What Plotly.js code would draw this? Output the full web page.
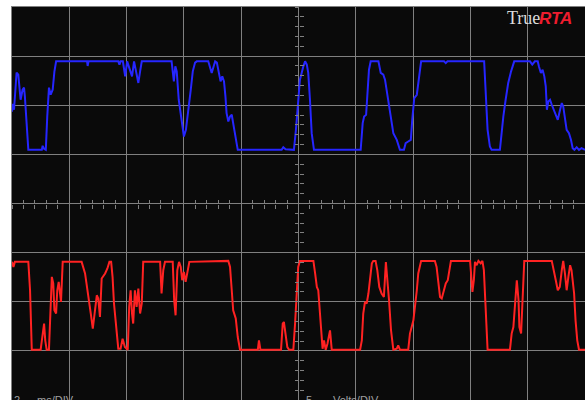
<!DOCTYPE html>
<html>
<head>
<meta charset="utf-8">
<script src="https://cdn.plot.ly/plotly-3.0.1.min.js"></script>
<style>html,body{margin:0;padding:0;background:#fff;}#chart{width:585px;height:400px;}</style>
</head>
<body>
<div id="chart"></div>
<script>
// Channel 1 (blue): time in ms, voltage in V
var blueTime = [0.00,0.03,0.07,0.16,0.22,0.30,0.37,0.42,0.45,0.57,1.04,1.07,1.12,1.18,1.23,1.29,1.35,1.42,1.48,1.54,2.62,2.64,2.67,3.71,3.75,3.79,3.87,3.95,4.02,4.12,4.19,4.26,4.33,4.41,4.47,4.53,5.57,5.61,5.65,5.70,5.75,5.82,5.92,6.00,6.07,6.15,6.24,6.31,6.39,6.45,6.85,6.97,7.09,7.15,7.24,7.28,7.34,7.40,7.45,7.49,7.55,7.61,7.67,7.70,7.76,7.82,7.88,9.41,9.47,9.55,9.84,9.91,9.99,10.05,10.17,10.23,10.29,10.34,10.40,10.46,10.54,12.17,12.24,12.29,12.36,12.40,12.46,12.52,12.79,12.87,12.96,13.02,13.13,13.25,13.31,13.43,13.54,13.68,13.74,13.83,13.92,13.97,14.04,14.13,14.18,14.28,15.08,15.14,15.20,16.48,16.53,16.60,16.68,16.74,17.03,17.09,17.15,17.23,17.32,17.42,17.53,18.08,18.16,18.25,18.35,18.39,18.46,18.52,18.58,18.63,18.67,18.72,18.78,18.84,18.89,18.95,19.05,19.13,19.19,19.24,19.30,19.36,19.44,19.51,19.57,19.63,19.71,19.79,19.88,20.00];
var blueVolts = [9.34,10.15,9.54,13.32,13.11,10.56,11.58,11.79,10.87,5.46,5.46,5.87,5.56,5.46,8.83,11.79,11.07,11.58,13.42,14.47,14.47,14.00,14.47,14.47,14.13,14.47,14.47,12.94,14.47,13.62,12.94,14.47,13.42,12.27,13.42,14.47,14.47,13.32,12.43,13.96,13.45,10.56,8.21,6.82,7.50,9.23,11.58,13.45,14.34,14.47,14.47,13.29,14.47,14.34,12.78,12.43,12.94,12.43,10.90,9.20,8.35,8.86,9.03,8.35,7.50,6.48,5.46,5.46,5.73,5.53,5.46,7.50,10.56,12.60,13.96,14.47,14.13,13.29,10.56,7.16,5.46,5.46,8.18,8.86,9.03,11.24,13.62,14.47,14.47,13.29,13.11,12.60,10.56,8.52,7.16,6.48,5.46,5.46,6.14,6.31,6.48,8.52,10.73,11.07,12.27,14.47,14.47,14.29,14.47,14.47,11.58,7.50,5.80,5.46,5.46,7.50,8.86,10.56,12.27,13.45,14.47,14.47,14.13,14.47,14.47,13.96,13.29,13.62,12.94,11.92,9.54,10.39,10.56,10.05,9.71,9.20,8.52,9.54,10.22,9.88,8.52,7.50,7.16,6.48,5.63,5.46,5.73,5.46,5.63,5.46];

// Channel 2 (red): time in ms, voltage in V
var redTime = [0.00,0.05,0.10,0.57,0.63,0.69,1.00,1.07,1.12,1.16,1.21,1.29,1.33,1.39,1.44,1.48,1.54,1.58,1.63,1.68,1.71,1.77,2.43,2.55,2.66,2.75,2.82,2.90,2.96,3.01,3.07,3.13,3.25,3.33,3.40,3.46,3.51,3.56,3.63,3.71,3.79,3.86,3.94,4.04,4.09,4.14,4.19,4.23,4.29,4.35,4.41,4.47,4.53,4.58,5.17,5.22,5.28,5.34,5.61,5.66,5.71,5.77,5.83,5.89,5.94,6.00,6.06,6.12,6.19,7.55,7.61,7.67,7.72,7.81,7.88,7.96,8.58,8.62,8.67,9.39,9.45,9.49,9.55,9.61,9.67,9.82,9.88,9.94,9.99,10.05,10.52,10.58,10.64,10.69,10.73,10.79,10.84,10.89,10.95,11.01,11.06,11.10,11.16,12.15,12.21,12.26,12.32,12.38,12.44,12.50,12.56,12.61,12.69,12.75,12.82,12.90,12.98,13.05,13.11,13.16,13.23,13.31,13.43,13.48,13.54,13.83,13.89,14.01,14.13,14.18,14.28,14.76,14.82,14.88,14.94,15.00,15.05,15.14,15.21,15.26,15.32,15.99,16.02,16.07,16.12,16.16,16.22,16.28,16.36,16.42,16.47,16.53,16.60,17.38,17.44,17.50,17.56,17.62,17.68,17.71,17.77,17.81,17.88,18.84,18.89,18.98,19.05,19.12,19.19,19.24,19.30,19.36,19.42,19.48,19.53,19.62,19.67,19.73,19.79,20.00];
var redVolts = [-5.94,-6.45,-5.94,-5.94,-8.83,-14.88,-14.88,-13.24,-12.22,-13.93,-14.88,-14.88,-11.89,-7.47,-8.14,-10.87,-11.20,-8.83,-7.98,-9.51,-10.02,-5.94,-5.94,-7.12,-9.16,-11.20,-12.73,-10.87,-9.34,-9.67,-11.55,-7.63,-7.12,-6.61,-5.94,-5.94,-7.47,-10.18,-12.22,-14.78,-14.78,-13.76,-14.61,-14.88,-10.53,-8.83,-11.20,-12.22,-8.83,-10.53,-8.65,-11.20,-10.18,-5.94,-5.94,-9.16,-6.79,-5.94,-5.94,-9.85,-11.38,-6.79,-5.94,-6.45,-7.81,-6.96,-7.98,-6.96,-5.94,-5.84,-6.45,-8.83,-10.87,-11.71,-13.59,-14.88,-14.88,-13.93,-14.88,-14.88,-12.22,-12.06,-13.59,-14.61,-14.88,-14.88,-12.22,-8.83,-6.45,-5.84,-5.84,-7.12,-8.49,-8.83,-10.53,-13.24,-14.78,-13.93,-14.88,-14.27,-13.24,-12.91,-14.88,-14.88,-13.93,-11.20,-10.02,-10.18,-9.16,-7.81,-6.10,-5.84,-5.84,-6.79,-8.49,-9.16,-9.51,-5.97,-7.81,-9.85,-12.91,-14.88,-14.78,-14.44,-14.88,-14.88,-13.24,-11.89,-8.83,-7.12,-5.84,-5.84,-6.45,-7.81,-9.51,-9.67,-9.16,-8.14,-7.81,-6.96,-5.84,-5.84,-7.12,-9.00,-7.81,-5.94,-6.28,-5.84,-6.10,-5.84,-6.79,-10.53,-14.88,-14.88,-13.24,-12.57,-10.53,-7.81,-9.85,-12.57,-13.24,-10.53,-5.84,-5.84,-6.45,-7.81,-8.83,-8.49,-6.79,-5.84,-7.12,-8.83,-7.47,-6.28,-6.79,-9.16,-11.89,-13.93,-14.88,-14.88];

var timeRange = [0, 20];      // 10 divisions x 2 ms/DIV
var voltRange = [-20, 20];    // 8 divisions x 5 Volts/DIV
var timeDiv = 2, voltDiv = 5;
var logoParts = ['True', 'RTA'];
var scaleLabels = ['2', 'ms/DIV', '5', 'Volts/DIV'];

var grid = '#808080';

var traces = [
  {type:'scatter', mode:'lines', x: blueTime, y: blueVolts, line:{color:'#2626ff', width:2}, hoverinfo:'skip'},
  {type:'scatter', mode:'lines', x: redTime, y: redVolts, line:{color:'#ff2222', width:2}, hoverinfo:'skip'},
  {type:'scatter', mode:'lines', x: [], y: [], xaxis:'x2', yaxis:'y2', hoverinfo:'skip'},
  {type:'scatter', mode:'lines', x: [], y: [], xaxis:'x3', yaxis:'y3', hoverinfo:'skip'}
];

function baseAxis(range, dtick) {
  return {range: range, dtick: dtick, tick0: range[0], showgrid: true, gridcolor: grid, gridwidth: 1,
          zeroline: false, showticklabels: false, ticks: '', showline: true, linecolor: grid,
          linewidth: 1, mirror: true, fixedrange: true};
}
function centerAxis(over, range, dtick, dir) {
  return {overlaying: over, anchor: 'free', position: 0.5, range: range, tick0: range[0], dtick: dtick,
          ticks: dir, ticklen: 4, tickwidth: 1, tickcolor: grid, showgrid: false, zeroline: false,
          showticklabels: false, showline: false, fixedrange: true};
}

var lblFont = {family:'Liberation Sans, Arial, sans-serif', size:11, color:'#a0a0a0'};

var layout = {
  width: 585, height: 400,
  margin: {l: 12, r: 0, t: 7, b: 0, pad: 0},
  paper_bgcolor: '#ffffff',
  plot_bgcolor: '#0a0a0a',
  showlegend: false,
  xaxis: baseAxis(timeRange, timeDiv),
  yaxis: baseAxis(voltRange, voltDiv),
  xaxis2: centerAxis('x', timeRange, timeDiv / 5, 'outside'),
  xaxis3: centerAxis('x', timeRange, timeDiv / 5, 'inside'),
  yaxis2: centerAxis('y', voltRange, voltDiv / 5, 'outside'),
  yaxis3: centerAxis('y', voltRange, voltDiv / 5, 'inside'),
  annotations: [
    {xref:'paper', yref:'paper', x: 0.918, y: 0.972, xanchor:'right', yanchor:'middle', showarrow:false,
     xshift: 3, borderpad: 0,
     text: logoParts[0], font:{family:'Liberation Serif, serif', size:18, color:'#dcdcdc'}},
    {xref:'paper', yref:'paper', x: 0.921, y: 0.972, xanchor:'left', yanchor:'middle', showarrow:false,
     xshift: -2, borderpad: 0,
     text: '<b><i>' + logoParts[1] + '</i></b>', font:{family:'Liberation Sans, Arial, sans-serif', size:17, color:'#ee1c2e'}},
    {xref:'paper', yref:'paper', x: 0.0, y: 0, xanchor:'left', yanchor:'top', yshift: 8, showarrow:false,
     text: scaleLabels[0], font: lblFont},
    {xref:'paper', yref:'paper', x: 0.04, y: 0, xanchor:'left', yanchor:'top', yshift: 8, showarrow:false,
     text: scaleLabels[1], font: lblFont},
    {xref:'paper', yref:'paper', x: 0.51, y: 0, xanchor:'left', yanchor:'top', yshift: 8, showarrow:false,
     text: scaleLabels[2], font: lblFont},
    {xref:'paper', yref:'paper', x: 0.556, y: 0, xanchor:'left', yanchor:'top', yshift: 8, showarrow:false,
     text: scaleLabels[3], font: lblFont}
  ]
};

Plotly.newPlot('chart', traces, layout, {staticPlot: true, displayModeBar: false});
</script>
</body>
</html>
